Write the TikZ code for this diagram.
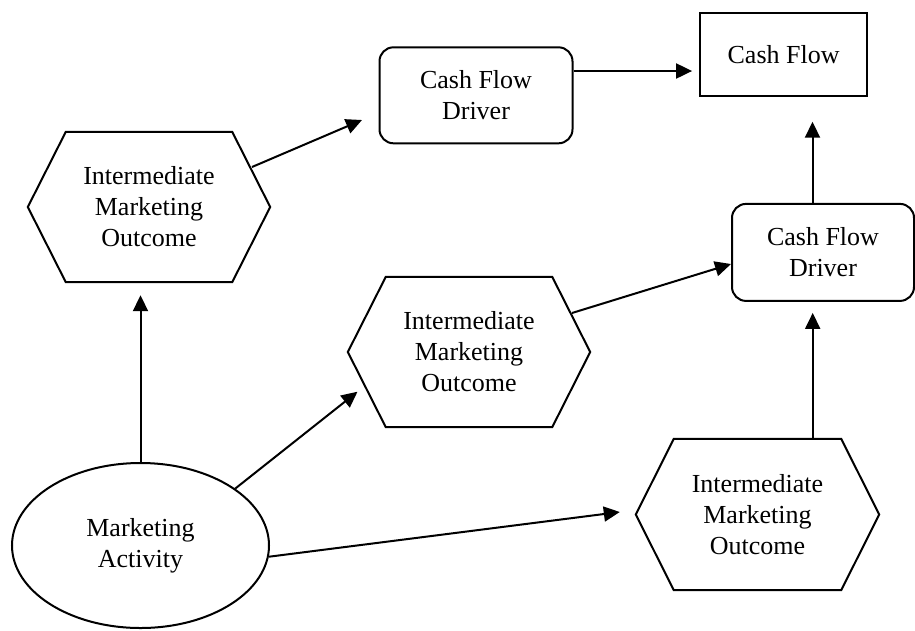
\documentclass[tikz,border=0pt]{standalone}
\usepackage{fontspec}
\setmainfont{Liberation Serif}
\usetikzlibrary{arrows.meta,calc,shapes.geometric}
\begin{document}
\begin{tikzpicture}[x=1pt,y=-1pt,
  every node/.style={font=\fontsize{26}{31}\selectfont, align=center, inner sep=0pt},
  line/.style={line width=2pt},
  arr/.style={line width=2pt,-{Triangle[length=16pt,width=15pt]}},
  hexbox/.style={minimum width=242pt, minimum height=150pt},
  roundbox/.style={draw, line width=2pt, rounded corners=14pt},
  plainbox/.style={draw, line width=2pt},
  ovalbox/.style={draw, ellipse, line width=2pt, minimum width=257pt, minimum height=165pt}]
\useasboundingbox (0,0) rectangle (915,630);

% nodes
\node[ovalbox] (ell) at (140.5,545.5) {Marketing\\Activity};
\node[hexbox] (h1) at (149,207) {Intermediate\\Marketing\\Outcome};
\node[hexbox] (h2) at (469,352) {Intermediate\\Marketing\\Outcome};
\node[hexbox, minimum width=243pt, minimum height=151pt] (h3) at (757.5,514.5) {Intermediate\\Marketing\\Outcome};
\node[roundbox, minimum width=193pt, minimum height=96pt] (r1) at (476,95.3) {Cash Flow\\Driver};
\node[roundbox, minimum width=182pt, minimum height=97pt] (r2) at (823,252.4) {Cash Flow\\Driver};
\node[plainbox, minimum width=167pt, minimum height=83pt] (cf) at (783.6,54.2) {Cash Flow};

% hexagon outlines
\foreach \h in {h1,h2,h3}{
  \draw[line] (\h.west) -- ($(\h.north west)+(38,0)$) -- ($(\h.north east)+(-38,0)$)
    -- (\h.east) -- ($(\h.south east)+(-38,0)$) -- ($(\h.south west)+(38,0)$) -- cycle;
}

% connectors
\draw[arr, shorten >=13pt] (ell.north) -- (ell.north |- h1.south);
\draw[arr] ($(h1.center)+(103,-40)$) -- ($(r1.west)+(-16.5,24.7)$);
\draw[arr] (ell.31.8) -- ($(h2.west)+(9.7,39.7)$);
\draw[arr] (ell.-5.6) -- ($(h3.west)+(-16,-2.5)$);
\draw[arr] ($(h2.center)+(103,-39)$) -- ($(r2.west)+(0,11.6)$);
\coordinate (h3up) at ($(h3.north)+(55.2,0)$);
\draw[arr, shorten >=11pt] (h3up) -- (h3up |- r2.south);
\coordinate (r2up) at ($(r2.north)+(-10.5,0)$);
\draw[arr, shorten >=25pt] (r2up) -- (r2up |- cf.south);
\coordinate (r1out) at ($(r1.east)+(0,-24.3)$);
\draw[arr, shorten >=7pt] (r1out) -- (r1out -| cf.west);
\end{tikzpicture}
\end{document}
